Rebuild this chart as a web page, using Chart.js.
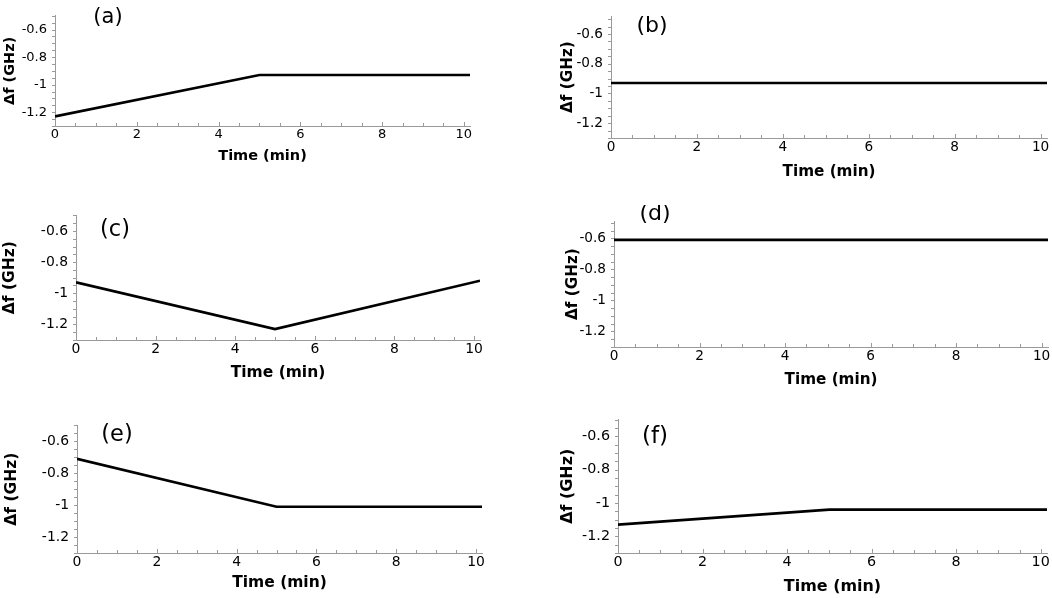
<!DOCTYPE html>
<html>
<head>
<meta charset="utf-8">
<script src="https://cdn.jsdelivr.net/npm/chart.js@4"></script>
<style>
  html, body { margin: 0; padding: 0; background: #fff; }
  body { width: 1052px; height: 598px; position: relative; overflow: hidden; }
  canvas { position: absolute; }
</style>
</head>
<body>
<script>
// ---- data ----
const time3 = [0, 5, 10.15];
const time2 = [0, 10.15];
const dfA = [-1.23, -0.93, -0.93];
const dfB = [-0.93, -0.93];
const dfC = [-0.93, -1.23, -0.92];
const dfD = [-0.61, -0.61];
const dfE = [-0.71, -1.01, -1.01];
const dfF = [-1.13, -1.04, -1.04];
const panelLabels = ['(a)', '(b)', '(c)', '(d)', '(e)', '(f)'];
const xTicks = [0, 2, 4, 6, 8, 10];
const yTicks = [-1.2, -1, -0.8, -0.6];
const yTickLabels = ['-1.2', '-1', '-0.8', '-0.6'];
const xTitle = 'Time (min)';
const yTitle = 'Δf (GHz)';

const seriesX = [time3, time2, time3, time2, time3, time3];
const seriesY = [dfA, dfB, dfC, dfD, dfE, dfF];

// ---- layout (page pixels) ----
const layoutCfg = [
  {yTitleX: 10,  left: 55,  right: 470,  top: 3,   bottom: 126, xTitleY: 156, lab: [108, 18], yMax: -0.5,  fs: 1.0},
  {yTitleX: 568, left: 611, right: 1047, top: 7,   bottom: 138, xTitleY: 172, lab: [652, 26], yMax: -0.48, fs: 1.05},
  {yTitleX: 10,  left: 76,  right: 480,  top: 213, bottom: 340, xTitleY: 373, lab: [115, 230], yMax: -0.5, fs: 1.07},
  {yTitleX: 573, left: 614, right: 1048, top: 219, bottom: 347, xTitleY: 380, lab: [655, 214], yMax: -0.49, fs: 1.05},
  {yTitleX: 12,  left: 77,  right: 482,  top: 423, bottom: 553, xTitleY: 583, lab: [117, 435], yMax: -0.5, fs: 1.07},
  {yTitleX: 568, left: 618, right: 1047, top: 417, bottom: 553, xTitleY: 587, lab: [655, 437], yMax: -0.5, fs: 1.1}
];

const FONT = '"DejaVu Sans", Verdana, sans-serif';
const TICK_SIZE = 13;
const TITLE_SIZE = 14.5;

const decor = {
  id: 'decor',
  afterDraw(chart, args, opts) {
    const {ctx, scales: {x, y}, chartArea: a} = chart;
    ctx.save();
    ctx.strokeStyle = '#9a9a9a';
    ctx.lineWidth = 1;
    ctx.beginPath();
    for (let k = 0; k * 0.5 <= x.max + 1e-9; k++) {
      const px = Math.round(x.getPixelForValue(k * 0.5)) + 0.5;
      ctx.moveTo(px, a.bottom);
      ctx.lineTo(px, a.bottom - (k % 4 === 0 ? 4 : 3));
    }
    for (let k = -26; k * 0.05 <= y.max + 1e-9; k++) {
      const py = Math.round(y.getPixelForValue(k * 0.05)) + 0.5;
      ctx.moveTo(a.left, py);
      ctx.lineTo(a.left - 3, py);
    }
    ctx.stroke();
    ctx.fillStyle = '#000';
    ctx.font = opts.size + 'px ' + FONT;
    ctx.textAlign = 'center';
    ctx.textBaseline = 'middle';
    ctx.fillText(opts.text, opts.x, opts.y);
    ctx.restore();
  }
};

layoutCfg.forEach((L, i) => {
  const tSize = TITLE_SIZE * L.fs;
  const tLH = tSize * 1.2;
  const cl = Math.floor(L.yTitleX - tLH / 2);
  const ct = Math.max(0, L.top - 14);
  const cw = Math.ceil(L.right + 8 - cl);
  const ch = Math.ceil(L.xTitleY + tLH / 2 - ct);
  const titlePadLeft = L.yTitleX - tLH / 2 - cl;
  const xAxisH = (ct + ch) - L.bottom;
  const xTitlePadBottom = (ct + ch) - L.xTitleY - tLH / 2;

  const wrap = document.createElement('div');
  wrap.style.position = 'absolute';
  wrap.style.left = cl + 'px';
  wrap.style.top = ct + 'px';
  wrap.style.width = cw + 'px';
  wrap.style.height = ch + 'px';
  const cv = document.createElement('canvas');
  cv.style.left = '0px'; cv.style.top = '0px';
  cv.style.width = cw + 'px';
  cv.style.height = ch + 'px';
  cv.width = cw; cv.height = ch;
  wrap.appendChild(cv);
  document.body.appendChild(wrap);

  const pts = seriesX[i].map((t, j) => ({x: t, y: seriesY[i][j]}));

  new Chart(cv, {
    type: 'line',
    data: {
      datasets: [{
        data: pts,
        borderColor: '#000',
        borderWidth: 2.6,
        pointRadius: 0,
        tension: 0,
        fill: false
      }]
    },
    plugins: [decor],
    options: {
      responsive: false,
      animation: false,
      devicePixelRatio: 1,
      layout: {padding: {left: 0, top: L.top - ct, right: (cl + cw) - L.right, bottom: 0}},
      plugins: {
        legend: {display: false},
        tooltip: {enabled: false},
        decor: {text: panelLabels[i], x: L.lab[0] - cl, y: L.lab[1] - ct, size: 21 * L.fs}
      },
      scales: {
        x: {
          type: 'linear',
          min: 0,
          max: time3[time3.length - 1],
          afterBuildTicks: s => { s.ticks = xTicks.map(v => ({value: v})); },
          afterFit: s => { s.height = xAxisH; },
          grid: {drawOnChartArea: false, drawTicks: false},
          border: {color: '#9a9a9a', width: 1},
          ticks: {
            color: '#000', padding: 1,
            font: {family: FONT, size: TICK_SIZE * L.fs},
            maxRotation: 0,
            callback: v => String(v)
          },
          title: {
            display: true, text: xTitle, color: '#000',
            font: {family: FONT, size: tSize, weight: 'bold'},
            padding: {top: 0, bottom: xTitlePadBottom}
          }
        },
        y: {
          type: 'linear',
          min: -1.3,
          max: L.yMax,
          afterBuildTicks: s => { s.ticks = yTicks.map(v => ({value: v})); },
          afterFit: s => { s.width = L.left - cl; },
          grid: {drawOnChartArea: false, drawTicks: false},
          border: {color: '#9a9a9a', width: 1},
          ticks: {
            color: '#000', padding: 8,
            font: {family: FONT, size: TICK_SIZE * L.fs},
            callback: v => yTickLabels[yTicks.indexOf(v)] ?? String(v)
          },
          title: {
            display: true, text: yTitle, color: '#000',
            font: {family: FONT, size: tSize, weight: 'bold'},
            padding: {top: titlePadLeft, bottom: 0}
          }
        }
      }
    }
  });
});
</script>
</body>
</html>
